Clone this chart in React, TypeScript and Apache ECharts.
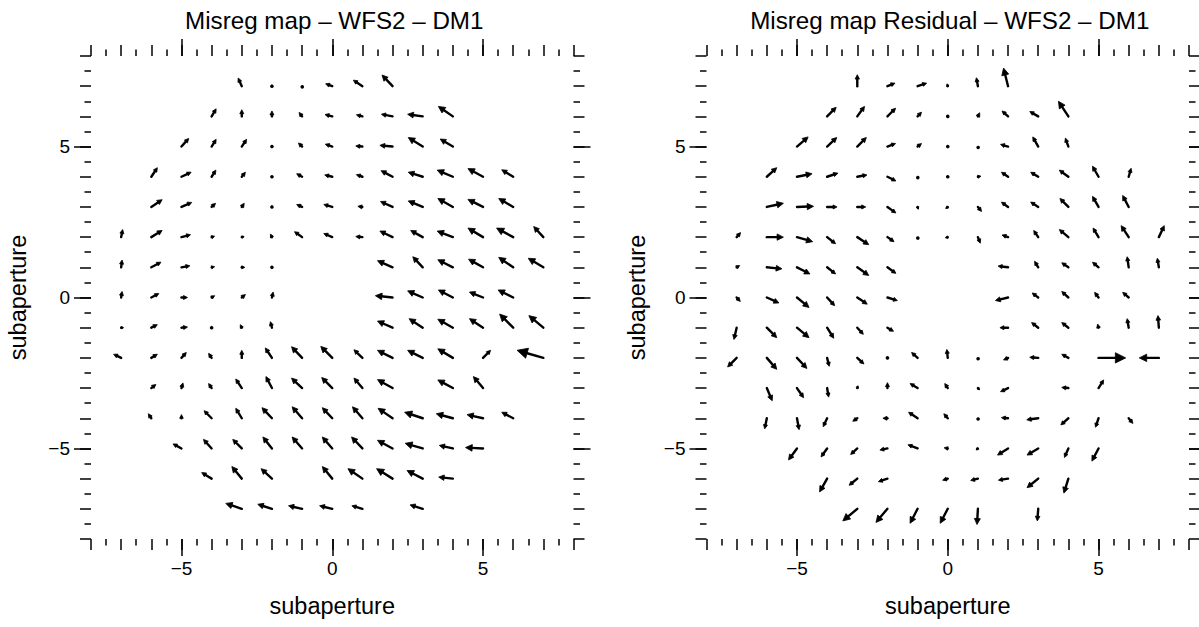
import React, { useEffect, useRef } from 'react';
import * as echarts from 'echarts';

// ---------------- data ----------------
const AXIS_MIN = -8;
const AXIS_MAX = 8;
const MAJOR_TICKS = [-5, 0, 5];
const PLOT_TITLES = ['Misreg map – WFS2 – DM1', 'Misreg map Residual – WFS2 – DM1'];
const AXIS_NAME = 'subaperture';

// [x, y, u, v] : arrow tail at (x, y), displacement (u, v) in subaperture units
const MAP_VECTORS: number[][] = [
  [-3, 7, -0.12, 0.27], [-2, 7, 0.02, 0.01], [-1, 7, 0.02, 0.01], [0, 7, -0.22, 0.08], [1, 7, -0.3, 0.2], [2, 7, -0.35, 0.37],
  [-4, 6, 0.15, 0.25], [-3, 6, 0.0, 0.22], [-2, 6, 0.0, 0.18], [-1, 6, -0.1, 0.13], [0, 6, -0.24, 0.06], [1, 6, -0.2, 0.05], [2, 6, -0.37, 0.07], [3, 6, -0.5, 0.07], [4, 6, -0.48, 0.33],
  [-5, 5, 0.24, 0.27], [-4, 5, 0.15, 0.24], [-3, 5, 0.16, 0.24], [-2, 5, 0.02, 0.01], [-1, 5, -0.12, 0.12], [0, 5, -0.23, 0.08], [1, 5, -0.22, 0.02], [2, 5, -0.42, 0.04], [3, 5, -0.48, 0.3], [4, 5, -0.42, 0.25],
  [-6, 4, 0.2, 0.3], [-5, 4, 0.32, 0.15], [-4, 4, 0.14, 0.22], [-3, 4, 0.12, 0.15], [-2, 4, 0.02, 0.01], [-1, 4, -0.18, 0.1], [0, 4, -0.25, 0.06], [1, 4, -0.2, 0.07], [2, 4, -0.38, 0.2], [3, 4, -0.48, 0.15], [4, 4, -0.52, 0.22], [5, 4, -0.5, 0.27], [6, 4, -0.38, 0.23],
  [-6, 3, 0.36, 0.24], [-5, 3, 0.34, 0.15], [-4, 3, 0.13, 0.12], [-3, 3, 0.08, 0.12], [-2, 3, 0.02, 0.01], [-1, 3, -0.18, 0.08], [0, 3, -0.28, 0.08], [1, 3, -0.15, 0.02], [2, 3, -0.4, 0.18], [3, 3, -0.48, 0.2], [4, 3, -0.5, 0.28], [5, 3, -0.5, 0.25], [6, 3, -0.48, 0.28],
  [-7, 2, 0.05, 0.25], [-6, 2, 0.36, 0.22], [-5, 2, 0.3, 0.08], [-4, 2, 0.1, 0.03], [-3, 2, 0.08, 0.02], [-2, 2, -0.05, 0.1], [-1, 2, -0.25, 0.18], [0, 2, -0.28, 0.12], [1, 2, -0.22, 0.02], [2, 2, -0.42, 0.2], [3, 2, -0.4, 0.22], [4, 2, -0.52, 0.2], [5, 2, -0.5, 0.3], [6, 2, -0.55, 0.3], [7, 2, -0.32, 0.35],
  [-7, 1, 0.03, 0.24], [-6, 1, 0.32, 0.17], [-5, 1, 0.28, 0.05], [-4, 1, 0.1, 0.02], [-3, 1, 0.1, 0.0], [-2, 1, 0.02, 0.01], [2, 1, -0.5, 0.22], [3, 1, -0.33, 0.35], [4, 1, -0.5, 0.25], [5, 1, -0.48, 0.27], [6, 1, -0.48, 0.33], [7, 1, -0.5, 0.3],
  [-7, 0, 0.03, 0.2], [-6, 0, 0.25, 0.13], [-5, 0, 0.2, 0.0], [-4, 0, 0.1, 0.06], [-3, 0, 0.12, 0.1], [-2, 0, 0.04, 0.18], [2, 0, -0.57, 0.06], [3, 0, -0.5, 0.22], [4, 0, -0.48, 0.25], [5, 0, -0.45, 0.18], [6, 0, -0.5, 0.25],
  [-7, -1, 0.08, 0.0], [-6, -1, 0.2, 0.1], [-5, -1, 0.2, 0.02], [-4, -1, 0.02, 0.01], [-3, -1, -0.05, 0.1], [-2, -1, -0.05, 0.2], [2, -1, -0.5, 0.22], [3, -1, -0.45, 0.3], [4, -1, -0.5, 0.28], [5, -1, -0.45, 0.3], [6, -1, -0.45, 0.45], [7, -1, -0.48, 0.4],
  [-7, -2, -0.25, 0.12], [-6, -2, 0.2, 0.12], [-5, -2, 0.16, 0.18], [-4, -2, -0.1, 0.15], [-3, -2, 0.0, 0.25], [-2, -2, -0.22, 0.33], [-1, -2, -0.35, 0.37], [0, -2, -0.38, 0.38], [1, -2, -0.28, 0.27], [2, -2, -0.5, 0.25], [3, -2, -0.5, 0.25], [4, -2, -0.5, 0.3], [5, -2, 0.25, 0.25], [7, -2, -0.87, 0.25],
  [-6, -3, 0.15, 0.12], [-5, -3, 0.05, 0.17], [-4, -3, -0.1, 0.15], [-3, -3, -0.2, 0.3], [-2, -3, -0.2, 0.38], [-1, -3, -0.35, 0.33], [0, -3, -0.35, 0.35], [1, -3, -0.28, 0.33], [2, -3, -0.5, 0.28], [4, -3, -0.5, 0.27], [5, -3, -0.32, 0.38],
  [-6, -4, -0.1, 0.15], [-5, -4, 0.0, 0.12], [-4, -4, -0.25, 0.25], [-3, -4, -0.2, 0.33], [-2, -4, -0.33, 0.35], [-1, -4, -0.33, 0.38], [0, -4, -0.33, 0.35], [1, -4, -0.33, 0.38], [2, -4, -0.48, 0.33], [3, -4, -0.6, 0.2], [4, -4, -0.55, 0.15], [5, -4, -0.53, 0.12], [6, -4, -0.38, 0.2],
  [-5, -5, -0.28, 0.15], [-4, -5, -0.27, 0.3], [-3, -5, -0.3, 0.3], [-2, -5, -0.3, 0.38], [-1, -5, -0.33, 0.38], [0, -5, -0.33, 0.38], [1, -5, -0.36, 0.38], [2, -5, -0.5, 0.27], [3, -5, -0.58, 0.17], [4, -5, -0.45, 0.1], [5, -5, -0.58, 0.03],
  [-4, -6, -0.33, 0.2], [-3, -6, -0.33, 0.4], [-2, -6, -0.36, 0.33], [0, -6, -0.33, 0.4], [1, -6, -0.48, 0.33], [2, -6, -0.53, 0.33], [3, -6, -0.52, 0.27], [4, -6, -0.47, 0.05],
  [-3, -7, -0.53, 0.18], [-2, -7, -0.47, 0.15], [-1, -7, -0.45, 0.1], [0, -7, -0.42, 0.1], [1, -7, -0.35, 0.1], [3, -7, -0.42, 0.13],
];

const RESIDUAL_VECTORS: number[][] = [
  [-3, 7, 0.0, 0.38], [-2, 7, 0.25, 0.1], [-1, 7, 0.3, 0.1], [0, 7, -0.02, 0.08], [1, 7, -0.05, 0.28], [2, 7, -0.15, 0.6],
  [-4, 6, 0.3, 0.3], [-3, 6, 0.24, 0.33], [-2, 6, 0.27, 0.27], [-1, 6, 0.13, 0.14], [0, 6, 0.03, 0.02], [1, 6, 0.06, 0.12], [2, 6, -0.2, 0.18], [3, 6, -0.28, 0.16], [4, 6, -0.33, 0.5],
  [-5, 5, 0.37, 0.32], [-4, 5, 0.32, 0.3], [-3, 5, 0.3, 0.3], [-2, 5, 0.27, 0.1], [-1, 5, 0.13, 0.1], [0, 5, 0.03, 0.02], [1, 5, 0.03, 0.02], [2, 5, -0.25, 0.07], [3, 5, -0.18, 0.32], [4, 5, -0.1, 0.28],
  [-6, 4, 0.33, 0.3], [-5, 4, 0.5, 0.1], [-4, 4, 0.36, 0.12], [-3, 4, 0.32, 0.06], [-2, 4, 0.28, -0.14], [-1, 4, 0.03, 0.02], [0, 4, 0.03, 0.02], [1, 4, 0.1, 0.02], [2, 4, -0.22, 0.15], [3, 4, -0.25, 0.15], [4, 4, -0.3, 0.22], [5, 4, -0.2, 0.35], [6, 4, 0.08, 0.28],
  [-6, 3, 0.55, 0.12], [-5, 3, 0.55, 0.02], [-4, 3, 0.33, 0.0], [-3, 3, 0.28, 0.0], [-2, 3, 0.28, -0.2], [-1, 3, 0.02, -0.08], [0, 3, -0.07, -0.05], [1, 3, 0.12, -0.15], [2, 3, -0.22, 0.16], [3, 3, -0.25, 0.16], [4, 3, -0.28, 0.28], [5, 3, -0.2, 0.35], [6, 3, -0.2, 0.38],
  [-7, 2, 0.13, 0.15], [-6, 2, 0.55, 0.0], [-5, 2, 0.52, -0.15], [-4, 2, 0.28, -0.22], [-3, 2, 0.38, -0.25], [-2, 2, 0.22, -0.15], [-1, 2, 0.02, -0.02], [0, 2, -0.08, -0.02], [1, 2, 0.08, -0.2], [2, 2, -0.2, 0.07], [3, 2, -0.15, 0.22], [4, 2, -0.3, 0.25], [5, 2, -0.18, 0.3], [6, 2, -0.25, 0.38], [7, 2, 0.18, 0.38],
  [-7, 1, 0.1, 0.06], [-6, 1, 0.5, -0.05], [-5, 1, 0.43, -0.22], [-4, 1, 0.28, -0.22], [-3, 1, 0.38, -0.27], [-2, 1, 0.28, -0.2], [2, 1, -0.33, 0.04], [3, 1, -0.12, 0.2], [4, 1, -0.22, 0.15], [5, 1, -0.2, 0.17], [6, 1, -0.05, 0.35], [7, 1, -0.05, 0.3],
  [-7, 0, 0.12, -0.13], [-6, 0, 0.4, -0.18], [-5, 0, 0.4, -0.33], [-4, 0, 0.25, -0.27], [-3, 0, 0.33, -0.22], [-2, 0, 0.33, -0.1], [2, 0, -0.42, -0.1], [3, 0, -0.2, 0.15], [4, 0, -0.22, 0.2], [5, 0, -0.13, 0.17], [6, 0, -0.2, 0.17],
  [-7, -1, -0.09, -0.39], [-6, -1, 0.33, -0.33], [-5, -1, 0.4, -0.33], [-4, -1, 0.22, -0.35], [-3, -1, 0.2, -0.22], [-2, -1, 0.2, -0.12], [2, -1, -0.27, 0.0], [3, -1, -0.22, 0.17], [4, -1, -0.22, 0.17], [5, -1, -0.03, 0.12], [6, -1, -0.05, 0.3], [7, -1, -0.03, 0.4],
  [-7, -2, -0.3, -0.3], [-6, -2, 0.33, -0.38], [-5, -2, 0.33, -0.35], [-4, -2, 0.07, -0.28], [-3, -2, 0.22, -0.2], [-2, -2, 0.02, -0.02], [-1, -2, -0.2, 0.18], [0, -2, -0.03, 0.28], [1, -2, 0.02, -0.03], [2, -2, -0.15, -0.07], [3, -2, -0.28, 0.02], [4, -2, -0.22, 0.12], [5, -2, 0.9, 0.0], [7, -2, -0.65, 0.0],
  [-6, -3, 0.18, -0.42], [-5, -3, 0.22, -0.32], [-4, -3, 0.05, -0.3], [-3, -3, 0.02, 0.08], [-2, -3, 0.0, 0.18], [-1, -3, -0.25, 0.15], [0, -3, -0.1, 0.15], [1, -3, 0.06, -0.06], [2, -3, -0.25, -0.12], [4, -3, -0.22, 0.02], [5, -3, 0.17, 0.27],
  [-6, -4, -0.07, -0.35], [-5, -4, 0.07, -0.38], [-4, -4, -0.13, -0.28], [-3, -4, -0.15, -0.1], [-2, -4, -0.15, 0.0], [-1, -4, -0.3, 0.2], [0, -4, -0.13, 0.15], [1, -4, 0.02, 0.0], [2, -4, -0.22, 0.02], [3, -4, -0.38, -0.05], [4, -4, -0.25, -0.22], [5, -4, -0.1, -0.3], [6, -4, 0.14, -0.17],
  [-5, -5, -0.28, -0.38], [-4, -5, -0.2, -0.28], [-3, -5, -0.22, -0.2], [-2, -5, -0.25, -0.05], [-1, -5, -0.32, 0.12], [0, -5, -0.12, 0.02], [1, -5, -0.06, -0.05], [2, -5, -0.35, -0.22], [3, -5, -0.37, -0.22], [4, -5, -0.13, -0.3], [5, -5, -0.22, -0.42],
  [-4, -6, -0.25, -0.44], [-3, -6, -0.27, -0.22], [-2, -6, -0.3, -0.1], [0, -6, -0.17, -0.05], [1, -6, -0.24, -0.06], [2, -6, -0.32, -0.05], [3, -6, -0.37, -0.3], [4, -6, -0.15, -0.48],
  [-3, -7, -0.48, -0.4], [-2, -7, -0.38, -0.45], [-1, -7, -0.25, -0.48], [0, -7, -0.25, -0.48], [1, -7, -0.03, -0.52], [3, -7, -0.03, -0.4],
];

// ---------------- layout / style ----------------
const FONT = "'Liberation Sans', Arial, Helvetica, sans-serif";
const GRID_LEFTS = [91, 706.5];
const GRID_TOP = 56;
const GRID_W = 482.5;
const GRID_H = 483;
const Y_NAME_GAPS = [61, 58];
const TICK_LINE = { color: '#000', width: 1.5 };

const fmt = (v: number) => (v < 0 ? '\u2212' + Math.abs(v) : String(v));

function renderArrow(params: any, api: any) {
  const x = api.value(0);
  const y = api.value(1);
  const u = api.value(2);
  const v = api.value(3);
  const p0 = api.coord([x, y]);
  const p1 = api.coord([x + u, y + v]);
  const dx = p1[0] - p0[0];
  const dy = p1[1] - p0[1];
  const len = Math.hypot(dx, dy);
  const children: any[] = [];
  if (len < 2) {
    children.push({ type: 'circle', shape: { cx: p0[0], cy: p0[1], r: 1.8 }, style: { fill: '#000' } });
  } else {
    const ux = dx / len;
    const uy = dy / len;
    const hl = Math.min(Math.max(len * 0.38, 4), len);
    const hw = hl * 0.5;
    const bx = p1[0] - ux * hl;
    const by = p1[1] - uy * hl;
    children.push({
      type: 'line',
      shape: { x1: p0[0], y1: p0[1], x2: bx + ux * 0.8, y2: by + uy * 0.8 },
      style: { stroke: '#000', lineWidth: 2.4, lineCap: 'round' },
    });
    children.push({
      type: 'polygon',
      shape: { points: [[p1[0], p1[1]], [bx - uy * hw, by + ux * hw], [bx + uy * hw, by - ux * hw]] },
      style: { fill: '#000', stroke: '#000', lineWidth: 0.8, lineJoin: 'round' },
    });
  }
  return { type: 'group', children };
}

const NO_LINE = { show: false, onZero: false };

function makeXAxes(g: number) {
  const base = { type: 'value', gridIndex: g, min: AXIS_MIN, max: AXIS_MAX, axisLine: NO_LINE, splitLine: { show: false } };
  return [
    {
      ...base, position: 'bottom',
      axisTick: { show: true, customValues: MAJOR_TICKS, length: 17, lineStyle: TICK_LINE },
      axisLabel: { show: true, customValues: MAJOR_TICKS, formatter: fmt, margin: 20, fontSize: 19, color: '#000', fontFamily: FONT },
      name: AXIS_NAME, nameLocation: 'middle', nameGap: 55,
      nameTextStyle: { fontSize: 23.5, color: '#000', fontFamily: FONT },
    },
    {
      ...base, position: 'bottom', interval: 1,
      axisTick: { show: true, length: 11, lineStyle: TICK_LINE },
      minorTick: { show: true, splitNumber: 2, length: 6.5, lineStyle: TICK_LINE },
      axisLabel: { show: false },
    },
    {
      ...base, position: 'top',
      axisTick: { show: true, customValues: MAJOR_TICKS, length: 17, lineStyle: TICK_LINE },
      axisLabel: { show: false },
    },
    {
      ...base, position: 'top', interval: 1,
      axisTick: { show: true, length: 11, lineStyle: TICK_LINE },
      minorTick: { show: true, splitNumber: 2, length: 6.5, lineStyle: TICK_LINE },
      axisLabel: { show: false },
    },
  ];
}

function makeYAxes(g: number) {
  const base = { type: 'value', gridIndex: g, min: AXIS_MIN, max: AXIS_MAX, axisLine: NO_LINE, splitLine: { show: false } };
  return [
    {
      ...base, position: 'left',
      axisTick: { show: true, customValues: MAJOR_TICKS, length: 17, lineStyle: TICK_LINE },
      axisLabel: { show: true, customValues: MAJOR_TICKS, formatter: fmt, margin: 21, fontSize: 19, color: '#000', fontFamily: FONT },
      name: AXIS_NAME, nameLocation: 'middle', nameGap: Y_NAME_GAPS[g],
      nameTextStyle: { fontSize: 23.5, color: '#000', fontFamily: FONT },
    },
    {
      ...base, position: 'left', interval: 1,
      axisTick: { show: true, length: 11, lineStyle: TICK_LINE },
      minorTick: { show: true, splitNumber: 2, length: 6.5, lineStyle: TICK_LINE },
      axisLabel: { show: false },
    },
    {
      ...base, position: 'right',
      axisTick: { show: true, customValues: MAJOR_TICKS, length: 17, lineStyle: TICK_LINE },
      axisLabel: { show: false },
    },
    {
      ...base, position: 'right', interval: 1,
      axisTick: { show: true, length: 11, lineStyle: TICK_LINE },
      minorTick: { show: true, splitNumber: 2, length: 6.5, lineStyle: TICK_LINE },
      axisLabel: { show: false },
    },
  ];
}

export default function App() {
  const ref = useRef<HTMLDivElement>(null);
  useEffect(() => {
    if (!ref.current) return;
    const chart = echarts.init(ref.current, undefined, { renderer: 'svg' });
    const datasets = [MAP_VECTORS, RESIDUAL_VECTORS];
    chart.setOption({
      animation: false,
      backgroundColor: '#fff',
      grid: GRID_LEFTS.map((left) => ({
        left, top: GRID_TOP, width: GRID_W, height: GRID_H, containLabel: false, outerBoundsMode: 'none',
      })),
      xAxis: [...makeXAxes(0), ...makeXAxes(1)],
      yAxis: [...makeYAxes(0), ...makeYAxes(1)],
      graphic: PLOT_TITLES.map((t, i) => ({
        type: 'text',
        x: GRID_LEFTS[i] + GRID_W / 2 + 2,
        y: 20,
        silent: true,
        style: { text: t, fill: '#000', fontSize: 24.2, fontFamily: FONT, align: 'center', verticalAlign: 'middle' },
      })),
      series: datasets.map((d, i) => ({
        type: 'custom',
        coordinateSystem: 'cartesian2d',
        xAxisIndex: i * 4,
        yAxisIndex: i * 4,
        dimensions: ['x', 'y', 'u', 'v'],
        encode: { x: 0, y: 1 },
        data: d,
        renderItem: renderArrow,
        clip: false,
        silent: true,
      })),
    });
    return () => chart.dispose();
  }, []);
  return <div ref={ref} style={{ position: 'absolute', left: 0, top: 0, width: 1199, height: 627 }} />;
}
